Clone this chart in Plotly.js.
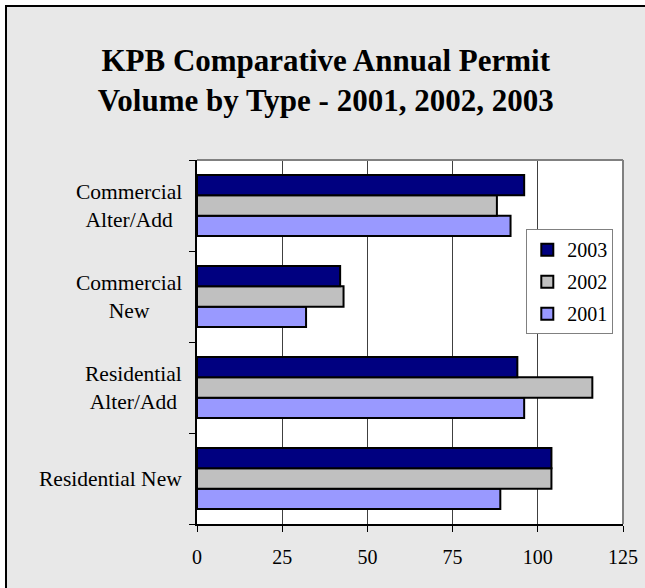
<!DOCTYPE html>
<html>
<head>
<meta charset="utf-8">
<script src="https://cdn.plot.ly/plotly-3.0.1.min.js"></script>
<style>
html, body { margin:0; padding:0; background:#e8e8e8; width:645px; height:588px; overflow:hidden; }
#chart { position:absolute; left:0; top:0; width:645px; height:588px; }
.strip { position:absolute; background:#ffffff; }
.bline { position:absolute; background:#000000; }
</style>
</head>
<body>
<div id="chart"></div>
<div class="strip" style="left:0;top:0;width:645px;height:5px;"></div>
<div class="strip" style="left:0;top:0;width:5px;height:588px;"></div>
<div class="bline" style="left:5px;top:5px;width:640px;height:2px;"></div>
<div class="bline" style="left:5px;top:5px;width:2px;height:583px;"></div>
<script>
// Data (bottom-up category order)
const categories = ['Residential New', 'Residential Alter/Add', 'Commercial New', 'Commercial Alter/Add'];
const categoryLabels = ['Residential New', 'Residential<br>Alter/Add', 'Commercial<br>New', 'Commercial<br>Alter/Add'];
const seriesNames = ['2001', '2002', '2003'];
const legendRanks = [3, 2, 1];
const v2001 = [89, 96, 32, 92];
const v2002 = [104, 116, 43, 88];
const v2003 = [104, 94, 42, 96];
const xTicks = [0, 25, 50, 75, 100, 125];

const colors = {'2001': '#9999ff', '2002': '#c0c0c0', '2003': '#000080'};
const seriesValues = {'2001': v2001, '2002': v2002, '2003': v2003};
const font = 'Liberation Serif, Times New Roman, serif';

const traces = seriesNames.map((name, i) => ({
  type: 'bar',
  orientation: 'h',
  name: name,
  legendgroup: name,
  legendrank: legendRanks[i],
  y: categories,
  x: seriesValues[name],
  marker: { color: colors[name], line: { color: '#000000', width: 2 } },
  hoverinfo: 'x+name'
}));

const annotations = categories.map((c, i) => ({
  xref: 'paper', yref: 'y', x: 0, y: c,
  xanchor: 'right', yanchor: 'middle', xshift: -13,
  text: categoryLabels[i], align: 'center', showarrow: false,
  font: { family: font, size: 21.5, color: '#000' }
}));

const layout = {
  width: 645, height: 588,
  margin: { l: 197, r: 22, t: 160, b: 64, pad: 0 },
  paper_bgcolor: 'rgba(0,0,0,0)',
  plot_bgcolor: '#ffffff',
  title: {
    text: '<b>KPB Comparative Annual Permit<br>Volume by Type - 2001, 2002, 2003</b>',
    xref: 'container', x: 0.505, xanchor: 'center',
    yref: 'container', y: 0.879, yanchor: 'middle',
    font: { family: font, size: 31, color: '#000' }
  },
  barmode: 'group',
  bargap: 0.33,
  bargroupgap: 0,
  showlegend: true,
  legend: {
    x: 0.773, y: 0.81, xanchor: 'left', yanchor: 'top',
    bgcolor: '#ffffff', bordercolor: '#808080', borderwidth: 1,
    traceorder: 'grouped', tracegroupgap: 3,
    itemwidth: 30,
    font: { family: font, size: 20, color: '#000' }
  },
  xaxis: {
    range: [0, 125], tickvals: xTicks, ticktext: xTicks.map(String),
    ticks: 'outside', ticklen: 6, tickcolor: '#000', tickwidth: 1,
    showline: true, linecolor: '#000', linewidth: 2,
    showgrid: true, gridcolor: '#404040', gridwidth: 1,
    zeroline: false, ticklabelstandoff: 8,
    tickfont: { family: font, size: 20, color: '#000' },
    fixedrange: true
  },
  yaxis: {
    type: 'category', categoryorder: 'array', categoryarray: categories,
    tickson: 'boundaries', ticks: 'outside', ticklen: 6, tickcolor: '#000', tickwidth: 1,
    showline: true, linecolor: '#000', linewidth: 2,
    showgrid: false, showticklabels: false, zeroline: false,
    fixedrange: true
  },
  shapes: [
    { type: 'line', xref: 'paper', yref: 'paper', x0: 0, x1: 1, y0: 1, y1: 1,
      line: { color: '#808080', width: 2 }, layer: 'above' },
    { type: 'line', xref: 'paper', yref: 'paper', x0: 1, x1: 1, y0: 0, y1: 1,
      line: { color: '#808080', width: 2 }, layer: 'above' }
  ],
  annotations: annotations
};

Plotly.newPlot('chart', traces, layout, { displayModeBar: false, staticPlot: true });
</script>
</body>
</html>
